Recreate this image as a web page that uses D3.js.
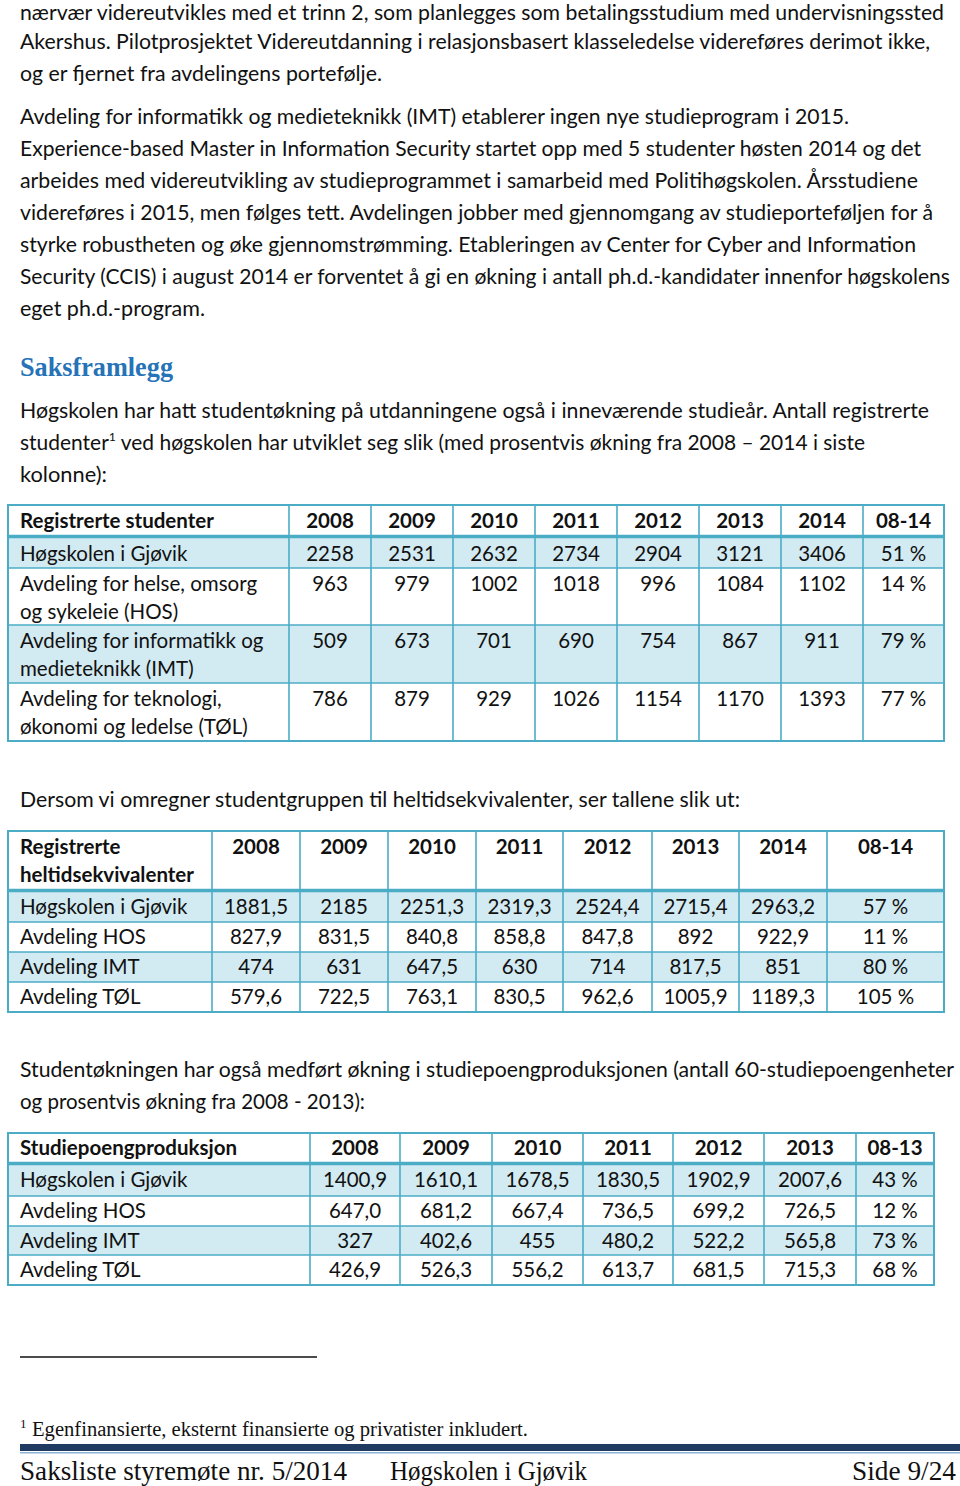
<!DOCTYPE html>
<html><head><meta charset="utf-8">
<script src="https://cdn.jsdelivr.net/npm/d3@7"></script>
<style>html,body{margin:0;padding:0;background:#fff;}svg{display:block;}</style>
</head><body>
<script>
// ---------------- DATA ----------------
const bodyTextTop = [
  "nærvær videreutvikles med et trinn 2, som planlegges som betalingsstudium med undervisningssted",
  "Akershus. Pilotprosjektet Videreutdanning i relasjonsbasert klasseledelse videreføres derimot ikke,",
  "og er fjernet fra avdelingens portefølje.",
  "Avdeling for informatikk og medieteknikk (IMT) etablerer ingen nye studieprogram i 2015.",
  "Experience-based Master in Information Security startet opp med 5 studenter høsten 2014 og det",
  "arbeides med videreutvikling av studieprogrammet i samarbeid med Politihøgskolen. Årsstudiene",
  "videreføres i 2015, men følges tett. Avdelingen jobber med gjennomgang av studieporteføljen for å",
  "styrke robustheten og øke gjennomstrømming. Etableringen av Center for Cyber and Information",
  "Security (CCIS) i august 2014 er forventet å gi en økning i antall ph.d.-kandidater innenfor høgskolens",
  "eget ph.d.-program."
];
const headingText = "Saksframlegg";
const introLines = [
  ["Høgskolen har hatt studentøkning på utdanningene også i inneværende studieår. Antall registrerte"],
  ["studenter", "1", " ved høgskolen har utviklet seg slik (med prosentvis økning fra 2008 – 2014 i siste"],
  ["kolonne):"]
];
const midLine = "Dersom vi omregner studentgruppen til heltidsekvivalenter, ser tallene slik ut:";
const prodLines = [
  "Studentøkningen har også medført økning i studiepoengproduksjonen (antall 60-studiepoengenheter",
  "og prosentvis økning fra 2008 - 2013):"
];
const footnoteMark = "1";
const footnoteText = "Egenfinansierte, eksternt finansierte og privatister inkludert.";
const footerLeft = "Saksliste styremøte nr. 5/2014";
const footerMid = "Høgskolen i Gjøvik";
const footerRight = "Side 9/24";

// Table 1: registered students
const t1Header = ["Registrerte studenter"];
const t1Years = ["2008","2009","2010","2011","2012","2013","2014","08-14"];
const t1Labels = [
  ["Høgskolen i Gjøvik"],
  ["Avdeling for helse, omsorg","og sykeleie (HOS)"],
  ["Avdeling for informatikk og","medieteknikk (IMT)"],
  ["Avdeling for teknologi,","økonomi og ledelse (TØL)"]
];
const t1Values = [
  ["2258","2531","2632","2734","2904","3121","3406","51 %"],
  ["963","979","1002","1018","996","1084","1102","14 %"],
  ["509","673","701","690","754","867","911","79 %"],
  ["786","879","929","1026","1154","1170","1393","77 %"]
];

// Table 2: full-time equivalents
const t2Header = ["Registrerte","heltidsekvivalenter"];
const t2Years = ["2008","2009","2010","2011","2012","2013","2014","08-14"];
const t2Labels = [["Høgskolen i Gjøvik"],["Avdeling HOS"],["Avdeling IMT"],["Avdeling TØL"]];
const t2Values = [
  ["1881,5","2185","2251,3","2319,3","2524,4","2715,4","2963,2","57 %"],
  ["827,9","831,5","840,8","858,8","847,8","892","922,9","11 %"],
  ["474","631","647,5","630","714","817,5","851","80 %"],
  ["579,6","722,5","763,1","830,5","962,6","1005,9","1189,3","105 %"]
];

// Table 3: credit production
const t3Header = ["Studiepoengproduksjon"];
const t3Years = ["2008","2009","2010","2011","2012","2013","08-13"];
const t3Labels = [["Høgskolen i Gjøvik"],["Avdeling HOS"],["Avdeling IMT"],["Avdeling TØL"]];
const t3Values = [
  ["1400,9","1610,1","1678,5","1830,5","1902,9","2007,6","43 %"],
  ["647,0","681,2","667,4","736,5","699,2","726,5","12 %"],
  ["327","402,6","455","480,2","522,2","565,8","73 %"],
  ["426,9","526,3","556,2","613,7","681,5","715,3","68 %"]
];

// ---------------- LAYOUT ----------------
const W = 960, H = 1486;
const FONT = "Lato, 'Open Sans', sans-serif";
const SIZE = 20.5;
const BORDER = "#4bacc6", FILL = "#d2eaf1", INK = "#111";

const svg = d3.select("body").append("svg").attr("width", W).attr("height", H)
  .style("font-family", FONT);
svg.append("rect").attr("width", W).attr("height", H).attr("fill", "#fff");

function line(txt, x, y, w, opts = {}) {
  const t = svg.append("text").attr("x", x).attr("y", y)
    .attr("font-size", opts.size || SIZE).attr("fill", opts.fill || INK)
    .attr("font-weight", opts.weight || "normal")
    .style("font-family", opts.family || FONT)
    .text(txt);
  if (w) t.attr("textLength", w).attr("lengthAdjust", "spacingAndGlyphs");
  return t;
}

// top paragraph lines
const topY = [20, 49, 81, 124, 156, 188, 220, 252, 284, 316];
const topW = [924, 910, 362, 829, 901, 898, 913, 896, 930, 185];
bodyTextTop.forEach((t, i) => line(t, 20, topY[i], topW[i]));

// heading
line(headingText, 20, 376, 153, {size: 27, weight: "bold", fill: "#2673b8", family: "'Liberation Serif', serif"});

// intro lines
const introY = [418, 450, 482];
const introW = [909, 845, 87];
introLines.forEach((parts, i) => {
  const t = svg.append("text").attr("x", 20).attr("y", introY[i]).attr("font-size", SIZE).attr("fill", INK);
  if (parts.length === 1) {
    t.text(parts[0]).attr("textLength", introW[i]).attr("lengthAdjust", "spacingAndGlyphs");
  } else {
    t.append("tspan").text(parts[0]);
    t.append("tspan").text(parts[1]).attr("font-size", 12).attr("dy", -9);
    t.append("tspan").text(parts[2]).attr("dy", 9);
    t.attr("textLength", introW[i]).attr("lengthAdjust", "spacingAndGlyphs");
  }
});

line(midLine, 20, 807, 720);
const prodY = [1077, 1109], prodW = [934, 345];
prodLines.forEach((t, i) => line(t, 20, prodY[i], prodW[i]));

// ---------------- TABLES ----------------
function drawTable(cfg) {
  const g = svg.append("g");
  const cols = ["label", ...cfg.years];
  const xL = d3.scaleOrdinal().domain(cols).range(cfg.xs.slice(0, -1));
  const xR = d3.scaleOrdinal().domain(cols).range(cfg.xs.slice(1));
  const rowKeys = d3.range(cfg.labels.length);
  const yT = d3.scaleOrdinal().domain(rowKeys).range(cfg.ys.slice(0, -1));
  const yB = d3.scaleOrdinal().domain(rowKeys).range(cfg.ys.slice(1));
  const left = cfg.xs[0], right = cfg.xs[cfg.xs.length - 1];
  const top = cfg.headTop, bottom = cfg.ys[cfg.ys.length - 1];

  g.selectAll("rect.fill").data(rowKeys.filter(r => r % 2 === 0)).join("rect")
    .attr("x", left).attr("width", right - left)
    .attr("y", r => yT(r)).attr("height", r => yB(r) - yT(r))
    .attr("fill", FILL);

  g.selectAll("line.h").data(rowKeys.slice(1)).join("line")
    .attr("x1", left).attr("x2", right)
    .attr("y1", r => yT(r)).attr("y2", r => yT(r))
    .attr("stroke", BORDER).attr("stroke-width", 1.6);
  g.append("line").attr("x1", left).attr("x2", right)
    .attr("y1", cfg.ys[0] - 1.5).attr("y2", cfg.ys[0] - 1.5)
    .attr("stroke", BORDER).attr("stroke-width", 3.5);
  g.selectAll("line.v").data(cols.slice(1)).join("line")
    .attr("x1", c => xL(c)).attr("x2", c => xL(c))
    .attr("y1", top).attr("y2", bottom)
    .attr("stroke", BORDER).attr("stroke-width", 1.6);
  g.append("rect").attr("x", left).attr("y", top)
    .attr("width", right - left).attr("height", bottom - top)
    .attr("fill", "none").attr("stroke", BORDER).attr("stroke-width", 2);

  cfg.header.forEach((h, i) => {
    g.append("text").attr("x", left + 12).attr("y", cfg.headBase + i * 28)
      .attr("font-size", SIZE).attr("font-weight", "bold").attr("fill", INK).text(h);
  });
  g.selectAll("text.yr").data(cfg.years).join("text")
    .attr("x", c => (xL(c) + xR(c)) / 2).attr("y", cfg.headBase)
    .attr("text-anchor", "middle").attr("font-size", SIZE).attr("font-weight", "bold")
    .attr("fill", INK).text(c => c);

  rowKeys.forEach(r => {
    cfg.labels[r].forEach((l, k) => {
      g.append("text").attr("x", left + 12).attr("y", yT(r) + cfg.base + k * 28)
        .attr("font-size", SIZE).attr("fill", INK).text(l);
    });
    g.selectAll(null).data(cfg.values[r]).join("text")
      .attr("x", (v, j) => (xL(cfg.years[j]) + xR(cfg.years[j])) / 2)
      .attr("y", yT(r) + cfg.base)
      .attr("text-anchor", "middle").attr("font-size", SIZE).attr("fill", INK)
      .text(v => v);
  });
}

drawTable({
  header: t1Header, years: t1Years, labels: t1Labels, values: t1Values,
  xs: [8, 289, 371, 453, 535, 617, 699, 781, 863, 944],
  headTop: 505, headBase: 528, ys: [538, 568, 625, 683, 741], base: 23
});
drawTable({
  header: t2Header, years: t2Years, labels: t2Labels, values: t2Values,
  xs: [8, 212, 300, 388, 476, 563, 652, 739, 827, 944],
  headTop: 831, headBase: 854, ys: [892, 922, 952, 982, 1012], base: 22
});
drawTable({
  header: t3Header, years: t3Years, labels: t3Labels, values: t3Values,
  xs: [8, 310, 400, 492, 583, 673, 764, 856, 934],
  headTop: 1133, headBase: 1155, ys: [1165, 1196, 1226, 1255, 1285], base: 22
});

// ---------------- FOOTNOTE & FOOTER ----------------
const ff = "'Liberation Serif', serif";
svg.append("line").attr("x1", 20).attr("x2", 317).attr("y1", 1357).attr("y2", 1357)
  .attr("stroke", "#111").attr("stroke-width", 1.5);
line(footnoteMark, 20, 1428, null, {size: 13, family: ff});
line(footnoteText, 32, 1436, 496, {size: 20, family: ff});

svg.append("rect").attr("x", 20).attr("y", 1444).attr("width", 940).attr("height", 7).attr("fill", "#1f3b61");
svg.append("rect").attr("x", 20).attr("y", 1452).attr("width", 940).attr("height", 1.5).attr("fill", "#8db3d9");

line(footerLeft, 20, 1480, 327, {size: 27, family: ff});
line(footerMid, 390, 1480, 197, {size: 27, family: ff});
line(footerRight, 852, 1480, 104, {size: 27, family: ff});
</script>
</body></html>
